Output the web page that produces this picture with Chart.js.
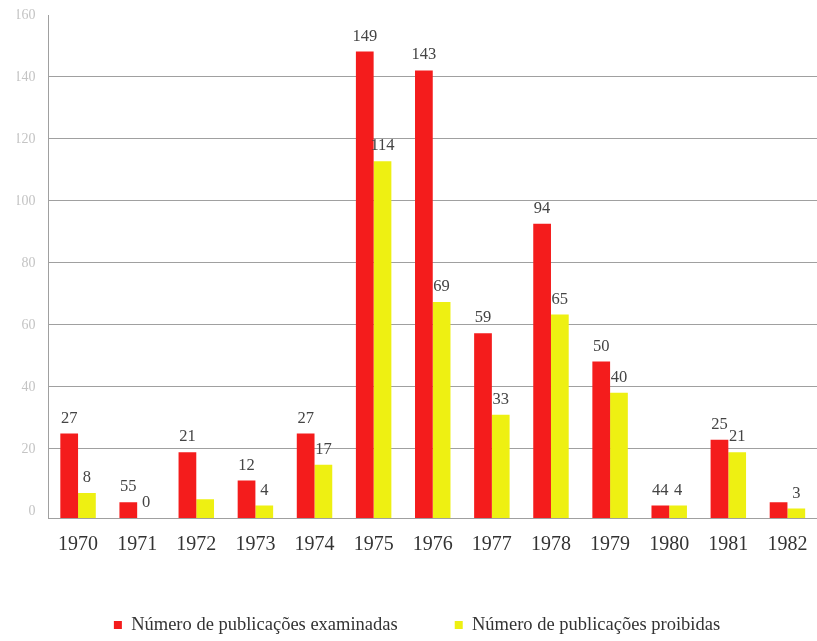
<!DOCTYPE html>
<html>
<head>
<meta charset="utf-8">
<script src="https://cdn.jsdelivr.net/npm/chart.js@4/dist/chart.umd.min.js"></script>
<style>
  html, body { margin: 0; padding: 0; background: #fff; }
  #wrap { width: 817px; height: 641px; }
</style>
</head>
<body>
<div id="wrap"><canvas id="chart" width="817" height="641"></canvas></div>
<script>
// data
const years = ['1970', '1971', '1972', '1973', '1974', '1975', '1976', '1977', '1978', '1979', '1980', '1981', '1982'];
const examinadas = [27, 5, 21, 12, 27, 149, 143, 59, 94, 50, 4, 25, 5];
const proibidas = [8, 0, 6, 4, 17, 114, 69, 33, 65, 40, 4, 21, 3];
// printed value labels (as they appear, typos included)
const examinadasText = ['27', '55', '21', '12', '27', '149', '143', '59', '94', '50', '44', '25', ''];
const proibidasText = ['8', '0', '', '4', '17', '114', '69', '33', '65', '40', '4', '21', '3'];
const yTicks = [0, 20, 40, 60, 80, 100, 120, 140, 160];

const serif = '"Liberation Serif", "Times New Roman", serif';
const gridGray = '#a0a0a0';

const valueLabels = {
    id: 'valueLabels',
    afterDatasetsDraw(chart) {
        const ctx = chart.ctx;
        ctx.save();
        ctx.font = '16.5px ' + serif;
        ctx.fillStyle = '#444';
        ctx.textAlign = 'center';
        ctx.textBaseline = 'bottom';
        chart.data.datasets.forEach((ds, di) => {
            const meta = chart.getDatasetMeta(di);
            meta.data.forEach((bar, i) => {
                const txt = ds.valueText[i];
                if (txt) ctx.fillText(txt, bar.x, bar.y - 7);
            });
        });
        ctx.restore();
    }
};

const ctx = document.getElementById('chart').getContext('2d');
const chart = new Chart(ctx, {
    type: 'bar',
    data: {
        labels: years,
        datasets: [
            {
                label: 'Número de publicações examinadas',
                data: examinadas,
                valueText: examinadasText,
                backgroundColor: '#f41c1c',
                borderWidth: 0,
                categoryPercentage: 0.6,
                barPercentage: 1.0
            },
            {
                label: 'Número de publicações proibidas',
                data: proibidas,
                valueText: proibidasText,
                backgroundColor: '#eef012',
                borderWidth: 0,
                categoryPercentage: 0.6,
                barPercentage: 1.0
            }
        ]
    },
    options: {
        responsive: false,
        animation: false,
        layout: { padding: { top: 15, left: 17, right: 0, bottom: -3.25 } },
        plugins: {
            tooltip: { enabled: false },
            legend: {
                position: 'bottom',
                labels: {
                    boxWidth: 8,
                    boxHeight: 8,
                    padding: 57,
                    color: '#333',
                    font: { family: serif, size: 18.5 }
                }
            }
        },
        scales: {
            x: {
                grid: { display: false, drawTicks: false },
                border: { color: gridGray },
                ticks: { color: '#333', font: { family: serif, size: 20 }, padding: 15 },
                afterFit: (s) => {
                    s.height = 40.75;
                    s.paddingLeft = 0;
                    s.paddingRight = 0;
                }
            },
            y: {
                display: false,
                min: 0,
                max: 160.7
            },
            yg: {
                position: 'left',
                min: -2.26,
                max: 160,
                afterBuildTicks: (s) => { s.ticks = yTicks.map(v => ({ value: v })); },
                afterFit: (s) => {
                    s.width = 31.5;
                    s.paddingTop = 0;
                    s.paddingBottom = 0;
                },
                grid: {
                    drawTicks: false,
                    color: (c) => (c.tick && c.tick.value > 0 && c.tick.value < 160) ? gridGray : 'rgba(0,0,0,0)'
                },
                border: { color: gridGray },
                ticks: { color: '#c4c4c4', font: { family: serif, size: 14 }, padding: 13 }
            }
        }
    },
    plugins: [valueLabels]
});
</script>
</body>
</html>
